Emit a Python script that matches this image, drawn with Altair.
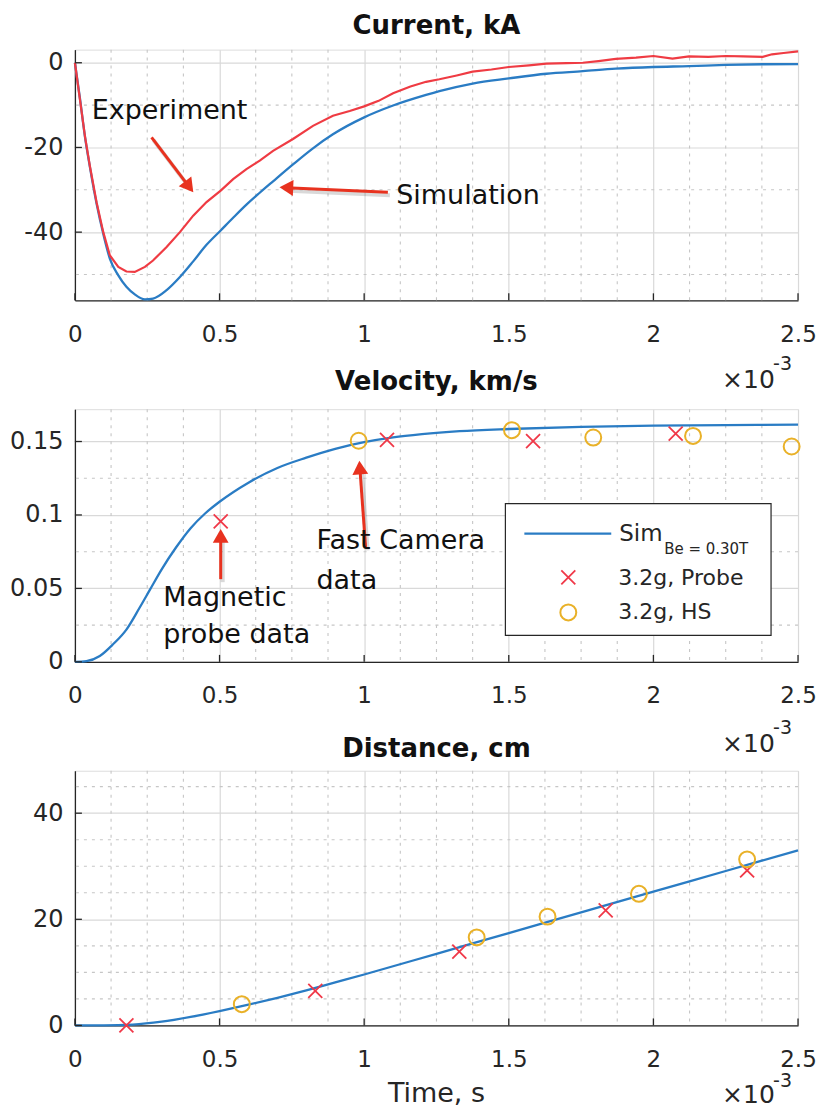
import altair as alt
import pandas as pd

# ---------------- data (time in units of 1e-3 s) ----------------
CUR_SIM_T = [0, 0.017, 0.035, 0.052, 0.075, 0.098, 0.121, 0.15, 0.178, 0.207, 0.242, 0.27,
             0.317, 0.363, 0.409, 0.455, 0.504, 0.547, 0.593, 0.639, 0.685, 0.754, 0.823,
             0.892, 1.0, 1.1, 1.214, 1.26, 1.375, 1.5, 1.63, 1.756, 1.87, 2.0, 2.123, 2.25,
             2.378, 2.5]
CUR_SIM_I = [0, -8.2, -17.6, -24.7, -33.3, -40.4, -46.3, -50.2, -52.9, -54.7, -55.9, -55.7,
             -53.7, -50.6, -46.9, -43.0, -39.6, -36.6, -33.5, -30.7, -28.0, -24.0, -20.2,
             -16.9, -12.9, -10.1, -7.6, -6.7, -4.9, -3.7, -2.6, -2.0, -1.4, -1.0, -0.8, -0.5,
             -0.35, -0.3]

CUR_EXP_T = [0, 0.017, 0.035, 0.052, 0.075, 0.098, 0.121, 0.15, 0.178, 0.207, 0.242, 0.27,
             0.317, 0.363, 0.409, 0.455, 0.504, 0.547, 0.593, 0.639, 0.685, 0.754, 0.823,
             0.892, 0.95, 1.0, 1.05, 1.1, 1.16, 1.214, 1.26, 1.32, 1.375, 1.44, 1.5, 1.57,
             1.63, 1.7, 1.756, 1.81, 1.87, 1.94, 2.0, 2.066, 2.123, 2.19, 2.25, 2.31, 2.378,
             2.41, 2.45, 2.5]
CUR_EXP_I = [0, -8.5, -17.5, -24.5, -33.0, -40.0, -45.5, -48.2, -49.3, -49.4, -48.2, -46.7,
             -43.5, -40.0, -36.1, -32.9, -30.2, -27.5, -25.1, -23.1, -20.8, -18.0, -14.9,
             -12.5, -11.4, -10.3, -9.0, -7.2, -5.6, -4.5, -3.9, -3.0, -2.1, -1.6, -1.0, -0.6,
             -0.2, -0.1, 0.0, 0.4, 0.9, 1.2, 1.6, 1.0, 1.5, 1.4, 1.6, 1.5, 1.4, 2.0, 2.3, 2.7]

VEL_SIM_T = [0, 0.04, 0.086, 0.132, 0.178, 0.224, 0.259, 0.3, 0.35, 0.4, 0.45, 0.5, 0.6, 0.7,
             0.8, 0.9, 1.0, 1.1, 1.2, 1.33, 1.5, 1.75, 2.0, 2.25, 2.5]
VEL_SIM_V = [0, 0.0005, 0.004, 0.012, 0.022, 0.037, 0.049, 0.063, 0.078, 0.091, 0.101, 0.109,
             0.122, 0.132, 0.139, 0.145, 0.1495, 0.1528, 0.155, 0.157, 0.1585, 0.160, 0.1608,
             0.1612, 0.1615]
VEL_PROBE_T = [0.504, 1.079, 1.584, 2.077]
VEL_PROBE_V = [0.0957, 0.1511, 0.1502, 0.1554]
VEL_HS_T = [0.981, 1.511, 1.792, 2.137, 2.478]
VEL_HS_V = [0.1505, 0.1577, 0.1527, 0.1538, 0.1466]

DIST_SIM_T = [0, 0.1, 0.2, 0.3, 0.4, 0.5, 0.6, 0.7, 0.8, 0.9, 1.0, 1.25, 1.5, 1.75, 2.0,
              2.25, 2.5]
DIST_SIM_D = [0, 0.0, 0.15, 0.7, 1.6, 2.7, 3.9, 5.2, 6.6, 8.1, 9.6, 13.5, 17.4, 21.3, 25.2,
              29.1, 33.0]
DIST_PROBE_T = [0.178, 0.831, 1.329, 1.835, 2.324]
DIST_PROBE_D = [0.0, 6.5, 13.9, 21.7, 29.2]
DIST_HS_T = [0.577, 1.389, 1.634, 1.95, 2.324]
DIST_HS_D = [4.0, 16.6, 20.5, 24.8, 31.3]

# ---------------- ticks / labels ----------------
X_TICKS = [0, 0.5, 1, 1.5, 2, 2.5]
X_MINOR = [0.125, 0.25, 0.375, 0.625, 0.75, 0.875, 1.125, 1.25, 1.375, 1.625, 1.75, 1.875,
           2.125, 2.25, 2.375]
CUR_TICKS = [-40, -20, 0]
CUR_MINOR = [-50, -30, -10]
VEL_TICKS = [0, 0.05, 0.1, 0.15]
VEL_MINOR = [0.025, 0.075, 0.125]
DIST_TICKS = [0, 20, 40]
DIST_MINOR = [5, 10, 15, 25, 30, 35, 45]

TITLES = ["Current, kA", "Velocity, km/s", "Distance, cm"]
XLABEL = "Time, s"
EXP_BASE = "×10"
EXP_POW = "-3"
LEG_SIM = "Sim"
LEG_SIM_SUB = "Be = 0.30T"
LEG_PROBE = "3.2g, Probe"
LEG_HS = "3.2g, HS"

# annotations (label, anchor in data coords)
CUR_NOTE_TEXT = ["Experiment", "Simulation"]
CUR_NOTE_T = [0.058, 1.111]
CUR_NOTE_Y = [-13.3, -33.3]
CUR_ARROW_T = [0.265, 1.082]
CUR_ARROW_Y = [-17.6, -30.6]
CUR_ARROW_T2 = [0.395, 0.731]
CUR_ARROW_Y2 = [-29.3, -29.5]
CUR_ARROW_ANGLE = [142.6, 272.6]

VEL_NOTE_TEXT = ["Magnetic", "probe data", "Fast Camera", "data"]
VEL_NOTE_T = [0.305, 0.305, 0.835, 0.835]
VEL_NOTE_Y = [0.0381, 0.0131, 0.0768, 0.0495]
VEL_ARROW_T = [0.504, 1.005]
VEL_ARROW_Y = [0.0563, 0.0779]
VEL_ARROW_T2 = [0.504, 0.985]
VEL_ARROW_Y2 = [0.0858, 0.1323]
VEL_ARROW_ANGLE = [0, 356]

# ---------------- style ----------------
FONT = "DejaVu Sans"
BLUE = "#2a7cc4"
RED = "#ef3b43"
RED_X = "#f03848"
ORANGE = "#e9b128"
ARROW = "#e8321f"
AXC = "#262626"
W = 724
HS = [251, 253, 255]
XSHAPE = "M-1,-1L1,1M-1,1L1,-1"

ONE = pd.DataFrame({"k": [0]})


def x_axis():
    return alt.Axis(values=X_TICKS, labelExpr="'' + datum.value", grid=True, ticks=False,
                    tickSize=0, labelPadding=41, labelBaseline="alphabetic", labelFontSize=23,
                    labelColor=AXC, labelFont=FONT, domainColor=AXC, domainWidth=1.3,
                    gridColor="#d9d9d9", gridWidth=1.2, title=None, labelFlush=False,
                    labelOverlap=False)


def y_axis(ticks):
    return alt.Axis(values=ticks, labelExpr="'' + datum.value", grid=True, ticks=False,
                    tickSize=0, labelPadding=12, labelFontSize=24, labelColor=AXC,
                    labelFont=FONT, domainColor=AXC, domainWidth=1.3, gridColor="#d9d9d9",
                    gridWidth=1.2, title=None, labelOverlap=False)


def X(field="t"):
    return alt.X(f"{field}:Q", scale=alt.Scale(domain=[0, 2.5], nice=False, zero=False),
                 axis=x_axis())


def Y(domain, ticks, field="y"):
    return alt.Y(f"{field}:Q", scale=alt.Scale(domain=domain, nice=False, zero=False),
                 axis=y_axis(ticks))


def frame_layers(domain, ticks, minor, h, title, title_off, exp_base, exp_pow):
    Yd = lambda f="y": Y(domain, ticks, f)
    layers = []
    layers.append(alt.Chart(pd.DataFrame({"t": X_MINOR})).mark_rule(
        color="#c6c6c6", strokeWidth=1.1, strokeDash=[3, 5]).encode(x=X()))
    layers.append(alt.Chart(pd.DataFrame({"y": minor})).mark_rule(
        color="#c6c6c6", strokeWidth=1.1, strokeDash=[3, 5]).encode(y=Yd()))
    top = []
    top.append(alt.Chart(pd.DataFrame({"t": X_TICKS})).mark_rule(
        color=AXC, strokeWidth=1.3).encode(x=X(), y=alt.value(h), y2=alt.value(h - 7)))
    top.append(alt.Chart(pd.DataFrame({"y": ticks})).mark_rule(
        color=AXC, strokeWidth=1.3).encode(y=Yd(), x=alt.value(0), x2=alt.value(7)))
    top.append(alt.Chart(ONE).mark_text(
        text=title, font=FONT, fontSize=26, fontWeight="bold", color="#111111",
        align="center", baseline="alphabetic").encode(x=alt.value(W / 2), y=alt.value(-title_off)))
    top.append(alt.Chart(ONE).mark_text(
        text=EXP_BASE, font=FONT, fontSize=25, color=AXC, align="left",
        baseline="alphabetic").encode(x=alt.value(648), y=alt.value(h + exp_base)))
    top.append(alt.Chart(ONE).mark_text(
        text=EXP_POW, font=FONT, fontSize=19, color=AXC, align="left",
        baseline="alphabetic").encode(x=alt.value(699), y=alt.value(h + exp_pow)))
    return layers, top


def arrows(t, y, t2, y2, ang, domain, ticks):
    df = pd.DataFrame({"t": t, "y": y, "t2": t2, "y2": y2, "angle": ang})
    shadow = alt.Chart(df).mark_rule(color="#000000", opacity=0.15, strokeWidth=4,
                                     xOffset=2, yOffset=3, x2Offset=2, y2Offset=3).encode(
        x=X(), y=Y(domain, ticks), x2="t2:Q", y2="y2:Q")
    line = alt.Chart(df).mark_rule(color=ARROW, strokeWidth=3).encode(
        x=X(), y=Y(domain, ticks), x2="t2:Q", y2="y2:Q")
    head = alt.Chart(df).mark_point(shape="triangle-up", filled=True, color=ARROW, size=250,
                                    opacity=1).encode(
        x=X("t2"), y=Y(domain, ticks, "y2"), angle=alt.Angle("angle:Q", scale=None))
    return [shadow, line, head]


def notes(text, t, y, domain, ticks):
    df = pd.DataFrame({"label": text, "t": t, "y": y})
    return alt.Chart(df).mark_text(font=FONT, fontSize=27, color="#111111", align="left",
                                   baseline="alphabetic").encode(
        x=X(), y=Y(domain, ticks), text="label:N")


# ---------------- panel 1: current ----------------
D1 = [-56.1, 3.1]
under1, over1 = frame_layers(D1, CUR_TICKS, CUR_MINOR, HS[0], TITLES[0], 16, 88, 70)
cur_sim = alt.Chart(pd.DataFrame({"t": CUR_SIM_T, "y": CUR_SIM_I})).mark_line(
    color=BLUE, strokeWidth=2.3, interpolate="monotone").encode(x=X(), y=Y(D1, CUR_TICKS))
cur_exp = alt.Chart(pd.DataFrame({"t": CUR_EXP_T, "y": CUR_EXP_I})).mark_line(
    color=RED, strokeWidth=2.2).encode(x=X(), y=Y(D1, CUR_TICKS))
p1 = alt.layer(*under1, cur_sim, cur_exp,
               *arrows(CUR_ARROW_T, CUR_ARROW_Y, CUR_ARROW_T2, CUR_ARROW_Y2, CUR_ARROW_ANGLE,
                       D1, CUR_TICKS),
               notes(CUR_NOTE_TEXT, CUR_NOTE_T, CUR_NOTE_Y, D1, CUR_TICKS),
               *over1).properties(width=W, height=HS[0])

# ---------------- panel 2: velocity ----------------
D2 = [0, 0.172]
under2, over2 = frame_layers(D2, VEL_TICKS, VEL_MINOR, HS[1], TITLES[1], 19, 90, 72)
vel_sim = alt.Chart(pd.DataFrame({"t": VEL_SIM_T, "y": VEL_SIM_V})).mark_line(
    color=BLUE, strokeWidth=2.3, interpolate="monotone").encode(x=X(), y=Y(D2, VEL_TICKS))
vel_probe = alt.Chart(pd.DataFrame({"t": VEL_PROBE_T, "y": VEL_PROBE_V})).mark_point(
    shape=XSHAPE, size=196, color=RED_X, strokeWidth=1.8, opacity=1).encode(
    x=X(), y=Y(D2, VEL_TICKS))
vel_hs = alt.Chart(pd.DataFrame({"t": VEL_HS_T, "y": VEL_HS_V})).mark_point(
    shape="circle", size=254, color=ORANGE, strokeWidth=2, opacity=1).encode(
    x=X(), y=Y(D2, VEL_TICKS))

leg = [
    alt.Chart(ONE).mark_rect(fill="white", stroke=AXC, strokeWidth=1.2).encode(
        x=alt.value(431), x2=alt.value(697), y=alt.value(94.5), y2=alt.value(226.5)),
    alt.Chart(ONE).mark_rule(color=BLUE, strokeWidth=2.3).encode(
        x=alt.value(450), x2=alt.value(537), y=alt.value(124.5)),
    alt.Chart(ONE).mark_text(text=LEG_SIM, font=FONT, fontSize=23, color=AXC, align="left",
                             baseline="alphabetic").encode(x=alt.value(545), y=alt.value(131.5)),
    alt.Chart(ONE).mark_text(text=LEG_SIM_SUB, font=FONT, fontSize=15, color=AXC,
                             align="left", baseline="alphabetic").encode(
        x=alt.value(590), y=alt.value(144.5)),
    alt.Chart(ONE).mark_point(shape=XSHAPE, size=196, color=RED_X, strokeWidth=1.8,
                              opacity=1).encode(x=alt.value(494), y=alt.value(168.5)),
    alt.Chart(ONE).mark_text(text=LEG_PROBE, font=FONT, fontSize=22, color=AXC, align="left",
                             baseline="alphabetic").encode(x=alt.value(544), y=alt.value(176.5)),
    alt.Chart(ONE).mark_point(shape="circle", size=254, color=ORANGE, strokeWidth=2,
                              opacity=1).encode(x=alt.value(494), y=alt.value(203.5)),
    alt.Chart(ONE).mark_text(text=LEG_HS, font=FONT, fontSize=22, color=AXC, align="left",
                             baseline="alphabetic").encode(x=alt.value(544), y=alt.value(210)),
]

p2 = alt.layer(*under2, vel_sim, vel_probe, vel_hs,
               *arrows(VEL_ARROW_T, VEL_ARROW_Y, VEL_ARROW_T2, VEL_ARROW_Y2, VEL_ARROW_ANGLE,
                       D2, VEL_TICKS),
               notes(VEL_NOTE_TEXT, VEL_NOTE_T, VEL_NOTE_Y, D2, VEL_TICKS),
               *leg, *over2).properties(width=W, height=HS[1])

# ---------------- panel 3: distance ----------------
D3 = [0, 48]
under3, over3 = frame_layers(D3, DIST_TICKS, DIST_MINOR, HS[2], TITLES[2], 14, 78, 62)
dist_sim = alt.Chart(pd.DataFrame({"t": DIST_SIM_T, "y": DIST_SIM_D})).mark_line(
    color=BLUE, strokeWidth=2.3, interpolate="monotone").encode(x=X(), y=Y(D3, DIST_TICKS))
dist_probe = alt.Chart(pd.DataFrame({"t": DIST_PROBE_T, "y": DIST_PROBE_D})).mark_point(
    shape=XSHAPE, size=196, color=RED_X, strokeWidth=1.8, opacity=1).encode(
    x=X(), y=Y(D3, DIST_TICKS))
dist_hs = alt.Chart(pd.DataFrame({"t": DIST_HS_T, "y": DIST_HS_D})).mark_point(
    shape="circle", size=254, color=ORANGE, strokeWidth=2, opacity=1).encode(
    x=X(), y=Y(D3, DIST_TICKS))
xlabel = alt.Chart(ONE).mark_text(text=XLABEL, font=FONT, fontSize=27, color=AXC,
                                  align="center", baseline="alphabetic").encode(
    x=alt.value(W / 2), y=alt.value(HS[2] + 77))
p3 = alt.layer(*under3, dist_sim, dist_probe, dist_hs, *over3, xlabel).properties(
    width=W, height=HS[2])

chart = alt.vconcat(p1, p2, p3, spacing=109, bounds="flush").properties(
    padding={"left": 1, "top": 3, "right": -1, "bottom": 0}
).configure_view(stroke=None).configure(font=FONT)

chart.save("out.html", embed_options={"renderer": "svg", "actions": False})
